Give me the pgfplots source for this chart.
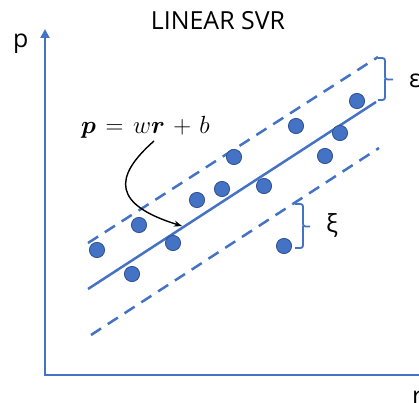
\documentclass[border=0pt]{standalone}
\usepackage{pgfplots}
\pgfplotsset{compat=1.18}
\usepackage{amsmath}
\usepackage{bm}
\usepackage{fontspec}
\setmainfont{Open Sans}
\usetikzlibrary{arrows.meta}

\definecolor{svrblue}{HTML}{4472C4}
\definecolor{svredge}{HTML}{2F528F}

\begin{document}
\begin{tikzpicture}
    \begin{axis}[%
            at={(0,0)}, anchor=south west,
            width=419bp, height=403bp,
            scale only axis,
            hide axis,
            xmin=0, xmax=419,
            ymin=0, ymax=403,
            y dir=reverse,
        ]
        % axes
        \addplot[svrblue, line width=2.8bp, -{Triangle[width=9bp,length=9bp]}]
            coordinates {(45,376) (45,29)};
        \addplot[svrblue, line width=2.8bp]
            coordinates {(43.6,375) (419,375)};

        % regression line and epsilon tube
        \addplot[svrblue, line width=2.5bp]
            coordinates {(88,289) (376,102)};
        \addplot[svrblue, line width=2.5bp, dash pattern=on 12bp off 8bp]
            coordinates {(88,243) (378,57)};
        \addplot[svrblue, line width=2.5bp, dash pattern=on 12bp off 8bp]
            coordinates {(91,335) (379,148)};

        % samples
        \addplot[only marks, mark=*, mark size=7.6bp,
                 mark options={fill=svrblue, draw=svredge, line width=0.8bp}]
            coordinates {
                (97,250) (132,274) (139,225) (173,243) (197,200)
                (222,189) (234,157) (264,186) (284,246) (296,126)
                (325,156) (340,133) (357,101)
            };

        % brackets
        \addplot[svrblue, line width=1.8bp, rounded corners=2.5bp]
            coordinates {(378,58) (385,58) (385,79.5) (393,79.5)};
        \addplot[svrblue, line width=1.8bp, rounded corners=2.5bp]
            coordinates {(378,100) (385,100) (385,78.5)};
        \addplot[svrblue, line width=1.8bp, rounded corners=2.5bp]
            coordinates {(295,204) (303,204) (303,226.5) (310,226.5)};
        \addplot[svrblue, line width=1.8bp, rounded corners=2.5bp]
            coordinates {(295,248) (303,248) (303,225.5)};

        % arrow to the line
        \draw[black, line width=1.4bp, -{Stealth[length=8bp,width=6bp]}]
            (axis cs:154,141) .. controls (axis cs:112,178) and (axis cs:114,205) .. (axis cs:182,226);

        % texts
        \node[anchor=base, inner sep=0pt, font=\fontsize{25}{30}\selectfont] at (axis cs:218,30) {LINEAR SVR};
        \node[anchor=base west, inner sep=0pt, font=\fontsize{25}{30}\selectfont] at (axis cs:13,47) {p};
        \node[inner sep=0pt, font=\fontsize{25}{30}\selectfont] at (axis cs:332,225) {ξ};
        \node[overlay, anchor=base west, inner sep=0pt, font=\fontsize{25}{30}\selectfont] at (axis cs:409,87) {ε};
        \node[overlay, anchor=base west, inner sep=0pt, font=\fontsize{25}{30}\selectfont] at (axis cs:412,404) {r};
        \node[anchor=base west, inner sep=0pt, font=\fontsize{25}{30}\selectfont]
            at (axis cs:81,133) {\thickmuskip=7mu\medmuskip=6mu$\bm{p} = w\bm{r} + b$};
    \end{axis}
    \pgfresetboundingbox
    \useasboundingbox (0,0) rectangle (419bp,403bp);
\end{tikzpicture}
\end{document}
